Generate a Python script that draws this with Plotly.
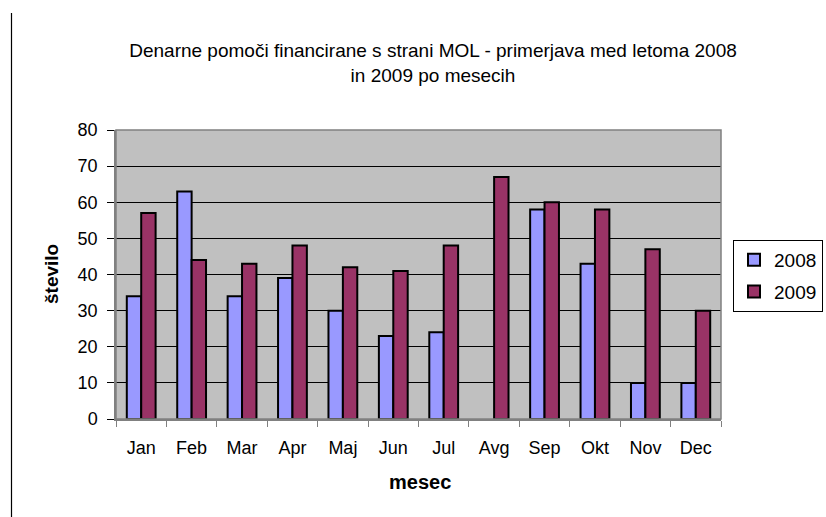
import plotly.graph_objects as go

months = ["Jan", "Feb", "Mar", "Apr", "Maj", "Jun", "Jul", "Avg", "Sep", "Okt", "Nov", "Dec"]
v2008 = [34, 63, 34, 39, 30, 23, 24, None, 58, 43, 10, 10]
v2009 = [57, 44, 43, 48, 42, 41, 48, 67, 60, 58, 47, 30]
y_ticks = [0, 10, 20, 30, 40, 50, 60, 70, 80]

FONT = "Liberation Sans, Arial, sans-serif"

fig = go.Figure()
fig.add_trace(go.Bar(name="2008", x=months, y=v2008, legendgroup="a",
                     marker=dict(color="#9999FF", line=dict(color="black", width=2))))
fig.add_trace(go.Bar(name="2009", x=months, y=v2009, legendgroup="b",
                     marker=dict(color="#993366", line=dict(color="black", width=2))))

L, R, T, B = 116, 721, 130, 419
W, H = 826, 517
pw, ph = R - L, B - T

def px_x(x):
    return (x - L) / pw

def px_y(y):
    return (B - y) / ph

fig.update_layout(
    width=W, height=H,
    margin=dict(l=L, r=W - R, t=T, b=H - B, pad=0, autoexpand=False),
    paper_bgcolor="white",
    plot_bgcolor="#C0C0C0",
    barmode="group",
    bargap=0.4286,
    bargroupgap=0,
    font=dict(family=FONT, color="black", size=18),
    title=dict(
        text="Denarne pomoči financirane s strani MOL - primerjava med letoma 2008<br>in 2009 po mesecih",
        x=px_x(433), xref="paper", xanchor="center",
        y=1 - 57 / H, yref="container", yanchor="middle",
        font=dict(size=19, family=FONT),
    ),
    legend=dict(
        x=px_x(733), xanchor="left",
        y=px_y(240), yanchor="top",
        bordercolor="black", borderwidth=1,
        bgcolor="white",
        font=dict(size=19, family=FONT),
        traceorder="grouped",
        tracegroupgap=4,
    ),
    showlegend=True,
)

fig.update_xaxes(
    automargin=False,
    showline=True, linecolor="#808080", linewidth=1.5,
    ticks="outside", tickson="boundaries", ticklen=6, tickcolor="#808080",
    showgrid=False,
    tickfont=dict(size=18),
    ticklabelstandoff=12,
)
fig.update_yaxes(
    automargin=False,
    range=[0, 80],
    tickvals=y_ticks,
    showline=True, linecolor="#808080", linewidth=1.5,
    ticks="outside", ticklen=7, tickcolor="black",
    showgrid=True, gridcolor="black", gridwidth=1,
    zeroline=False,
    tickfont=dict(size=18),
    ticklabelstandoff=6,
)

# axis titles
fig.add_annotation(text="<b>mesec</b>", xref="paper", yref="paper",
                   x=px_x(420), y=px_y(482), showarrow=False,
                   xanchor="center", yanchor="middle", font=dict(size=20, family=FONT))
fig.add_annotation(text="<b>število</b>", xref="paper", yref="paper",
                   x=px_x(51), y=px_y(274), showarrow=False, textangle=-90,
                   xanchor="center", yanchor="middle", font=dict(size=19, family=FONT))

# top/right border of plot area
fig.add_shape(type="rect", xref="paper", yref="paper", x0=0, x1=1, y0=0, y1=1,
              line=dict(color="#808080", width=1.5), layer="above")
# left page border line
fig.add_shape(type="line", xref="paper", yref="paper",
              x0=px_x(11.5), x1=px_x(11.5),
              y0=px_y(517), y1=px_y(13),
              line=dict(color="black", width=1.2))

fig.write_html("out.html", config={"displayModeBar": False})

# remove default page margin so the figure sits at the window origin
with open("out.html", "r", encoding="utf-8") as f:
    html = f.read()
html = html.replace("<body>", '<body style="margin:0;padding:0;overflow:hidden">', 1)
with open("out.html", "w", encoding="utf-8") as f:
    f.write(html)
